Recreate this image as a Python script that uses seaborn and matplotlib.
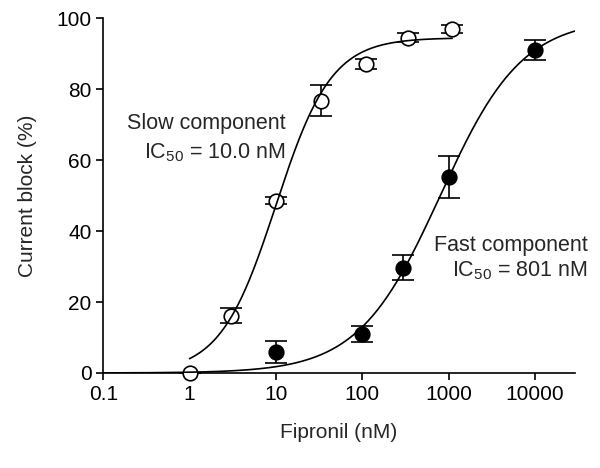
import numpy as np
import pandas as pd
import matplotlib
matplotlib.use("Agg")
import matplotlib.pyplot as plt
import seaborn as sns

# slow component (open circles)
slow_conc = [1, 3, 10, 33, 110, 340, 1100]
slow_block = [0, 16.2, 48.5, 76.8, 87.0, 94.5, 96.9]
slow_err = [0, 2.1, 1.0, 4.3, 1.4, 1.3, 1.1]

# fast component (filled circles)
fast_conc = [10, 100, 300, 1000, 10000]
fast_block = [5.9, 11.0, 29.7, 55.2, 91.0]
fast_err = [3.1, 2.3, 3.5, 5.9, 2.8]

# fitted Hill curves: (IC50, slope, top, x from, x to)
slow_fit = (10.0, 1.35, 94.5, 1, 1100)
fast_fit = (801.0, 0.915, 100.0, 0.1, 29000)

x_ticks = [0.1, 1, 10, 100, 1000, 10000]
x_tick_labels = ["0.1", "1", "10", "100", "1000", "10000"]
y_ticks = [0, 20, 40, 60, 80, 100]


def hill_curve(ic50, n, top, x0, x1):
    x = np.logspace(np.log10(x0), np.log10(x1), 300)
    return pd.DataFrame({"conc": x, "block": top / (1 + (ic50 / x) ** n)})


sns.set_style("ticks")
plt.rcParams["font.family"] = ["Liberation Sans", "DejaVu Sans"]
plt.rcParams["mathtext.fontset"] = "custom"
plt.rcParams["mathtext.rm"] = "Liberation Sans"
plt.rcParams["mathtext.it"] = "Liberation Sans"

fig = plt.figure(figsize=(6, 4.68), dpi=100)
ax = fig.add_axes([0.172, 0.203, 0.786, 0.758])

for d in (hill_curve(*slow_fit), hill_curve(*fast_fit)):
    sns.lineplot(data=d, x="conc", y="block", color="black", lw=1.2, ax=ax, zorder=4)

for conc, block, err, face in ((slow_conc, slow_block, slow_err, "white"),
                               (fast_conc, fast_block, fast_err, "black")):
    ax.errorbar(conc, block, yerr=err, fmt="o", mfc=face, mec="black", mew=1.2, ms=10.5,
                ecolor="black", elinewidth=1.2, capsize=8, capthick=1.2, zorder=3, clip_on=False)

ax.set_xscale("log")
ax.set_xlim(0.1, 29000)
ax.set_ylim(0, 100)
ax.set_xticks(x_ticks)
ax.set_xticklabels(x_tick_labels)
ax.set_yticks(y_ticks)
ax.minorticks_off()
ax.tick_params(labelsize=15, length=5, width=1.2, colors="black")
for s in ("left", "bottom"):
    ax.spines[s].set_linewidth(1.2)
    ax.spines[s].set_color("black")
sns.despine(ax=ax)

ax.set_xlabel("Fipronil (nM)", fontsize=15, labelpad=14)
ax.set_ylabel("Current block (%)", fontsize=15, labelpad=14)

ax.text(0.386, 0.704, "Slow component", transform=ax.transAxes, ha="right", va="center", fontsize=15.5)
ax.text(0.386, 0.62, r"IC$_{50}$ = 10.0 nM", transform=ax.transAxes, ha="right", va="center", fontsize=15.5)
ax.text(1.027, 0.358, "Fast component", transform=ax.transAxes, ha="right", va="center", fontsize=15.5)
ax.text(1.027, 0.287, r"IC$_{50}$ = 801 nM", transform=ax.transAxes, ha="right", va="center", fontsize=15.5)

fig.savefig("out.png", dpi=100)
